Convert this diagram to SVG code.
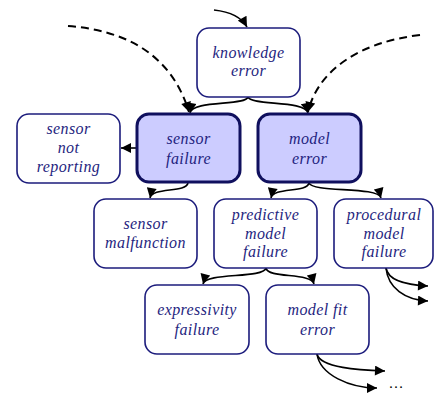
<svg xmlns="http://www.w3.org/2000/svg" width="434" height="395" viewBox="0 0 434 395">
  <style>
    .box { fill: #ffffff; stroke: #1c1c7c; stroke-width: 1.6; }
    .hot { fill: #ccccff; stroke: #10105e; stroke-width: 3; }
    .lbl { font-family: "Liberation Serif", "Times New Roman", serif; font-style: italic; font-size: 16px; fill: #1f1f80; text-anchor: middle; letter-spacing: 0.4px; }
    .edge { fill: none; stroke: #000; stroke-width: 1.6; }
    .dash { stroke-dasharray: 8 5; stroke-width: 2; }
  </style>
  <defs>
    <marker id="arr" viewBox="0 0 10 10" refX="10" refY="5" markerWidth="12" markerHeight="10" markerUnits="userSpaceOnUse" orient="auto">
      <path d="M0,0 L10,5 L0,10 z" fill="#000"/>
    </marker>
  </defs>

  <g id="connectors">
    <path class="edge" d="M214,10 C232,12 242,18 247,27" marker-end="url(#arr)"/>
    <path class="edge dash" d="M68,26 C120,30 170,50 189,112" marker-end="url(#arr)"/>
    <path class="edge dash" d="M420,35 C360,42 318,70 308,112" marker-end="url(#arr)"/>
    <path class="edge" d="M248,97 C246,106 192,100 190,113" marker-end="url(#arr)"/>
    <path class="edge" d="M248,97 C251,106 305,100 308,113" marker-end="url(#arr)"/>
    <path class="edge" d="M136,148 L121,148" marker-end="url(#arr)"/>
    <path class="edge" d="M188,183 C186,193 152,187 150,198" marker-end="url(#arr)"/>
    <path class="edge" d="M309,183 C307,193 273,187 271,198" marker-end="url(#arr)"/>
    <path class="edge" d="M309,183 C313,193 378,186 381,198" marker-end="url(#arr)"/>
    <path class="edge" d="M266,268 C263,279 206,272 203,284" marker-end="url(#arr)"/>
    <path class="edge" d="M266,268 C268,279 311,272 314,284" marker-end="url(#arr)"/>
    <path class="edge" d="M386,268 C388,280 405,285 428,286" marker-end="url(#arr)"/>
    <path class="edge" d="M386,268 C388,288 405,300 428,301" marker-end="url(#arr)"/>
    <path class="edge" d="M317,354 C320,368 360,370 385,371" marker-end="url(#arr)"/>
    <path class="edge" d="M317,354 C320,375 350,388 377,388" marker-end="url(#arr)"/>
  </g>

  <g id="knowledge-error">
    <rect class="box" x="197" y="28" width="103" height="69" rx="12"/>
    <text class="lbl" x="248.5" y="58">knowledge</text>
    <text class="lbl" x="248.5" y="76">error</text>
  </g>
  <g id="sensor-not-reporting">
    <rect class="box" x="17" y="114" width="103" height="69" rx="12"/>
    <text class="lbl" x="68.5" y="134">sensor</text>
    <text class="lbl" x="68.5" y="153">not</text>
    <text class="lbl" x="68.5" y="172">reporting</text>
  </g>
  <g id="sensor-failure">
    <rect class="hot" x="137" y="114" width="103" height="68" rx="12"/>
    <text class="lbl" x="188.5" y="144">sensor</text>
    <text class="lbl" x="188.5" y="164">failure</text>
  </g>
  <g id="model-error">
    <rect class="hot" x="258" y="114" width="103" height="68" rx="12"/>
    <text class="lbl" x="309.5" y="144">model</text>
    <text class="lbl" x="309.5" y="164">error</text>
  </g>
  <g id="sensor-malfunction">
    <rect class="box" x="94" y="199" width="103" height="69" rx="12"/>
    <text class="lbl" x="145.5" y="229">sensor</text>
    <text class="lbl" x="145.5" y="248">malfunction</text>
  </g>
  <g id="predictive-model-failure">
    <rect class="box" x="214" y="199" width="103" height="69" rx="12"/>
    <text class="lbl" x="265.5" y="220">predictive</text>
    <text class="lbl" x="265.5" y="239">model</text>
    <text class="lbl" x="265.5" y="257">failure</text>
  </g>
  <g id="procedural-model-failure">
    <rect class="box" x="334" y="199" width="99" height="69" rx="12"/>
    <text class="lbl" x="384" y="220">procedural</text>
    <text class="lbl" x="384" y="239">model</text>
    <text class="lbl" x="384" y="257">failure</text>
  </g>
  <g id="expressivity-failure">
    <rect class="box" x="145" y="285" width="104" height="69" rx="12"/>
    <text class="lbl" x="197" y="315">expressivity</text>
    <text class="lbl" x="197" y="335">failure</text>
  </g>
  <g id="model-fit-error">
    <rect class="box" x="266" y="285" width="103" height="69" rx="12"/>
    <text class="lbl" x="317.5" y="315">model fit</text>
    <text class="lbl" x="317.5" y="335">error</text>
  </g>
  <text x="396" y="388" font-family="Liberation Serif, serif" font-size="15" fill="#000" text-anchor="middle">…</text>
</svg>
